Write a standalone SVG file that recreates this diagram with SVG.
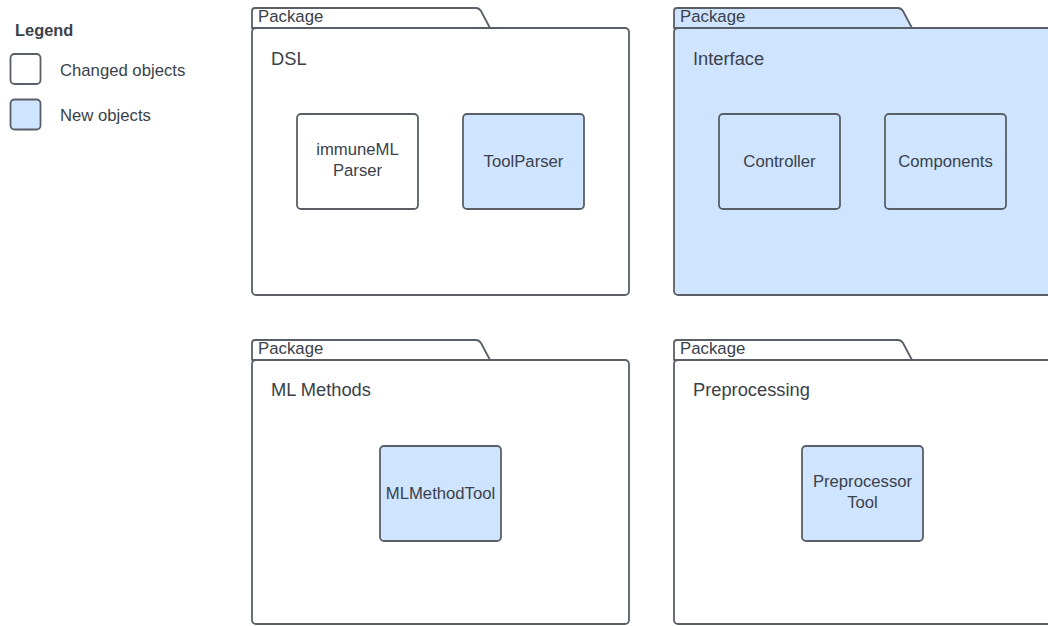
<svg xmlns="http://www.w3.org/2000/svg" width="1048" height="626" viewBox="0 0 1048 626">
<style>
.pk{stroke:#5a5f67;stroke-width:1.8;stroke-linejoin:round}
.w{fill:#ffffff}
.b{fill:#cfe4ff}
.nd{stroke:#5a5f67;stroke-width:1.8}
text{font-family:"Liberation Sans",Arial,sans-serif;fill:#3a414a}
.tab{font-size:16.8px}
.ttl{font-size:18.3px}
.lbl{font-size:16.7px;text-anchor:middle}
.lg{font-size:16.7px}
</style>
<rect width="1048" height="626" fill="#ffffff"/>
<g id="legend">
<text x="15" y="36" font-size="16.4px" font-weight="bold">Legend</text>
<rect x="10.5" y="54" width="30" height="30" rx="4" class="nd w"/>
<text x="60" y="76" class="lg">Changed objects</text>
<rect x="10.5" y="99.5" width="30" height="30" rx="4" class="nd b"/>
<text x="60" y="121" class="lg">New objects</text>
</g>
<g id="pkg-dsl">
<path d="M252,28 V11 Q252,8 255,8 H476 Q479,8 481,11 L490,28 Z" class="pk w"/>
<rect x="252" y="28" width="377" height="267" rx="4" class="pk w"/>
<text x="258" y="22" class="tab">Package</text>
<text x="271" y="65" class="ttl">DSL</text>
</g>
<g id="node-immuneml">
<rect x="297" y="114" width="121" height="95" rx="4" class="nd w"/>
<text x="357.5" y="155" class="lbl">immuneML</text>
<text x="357.5" y="176" class="lbl">Parser</text>
</g>
<g id="node-toolparser">
<rect x="463" y="114" width="121" height="95" rx="4" class="nd b"/>
<text x="523.5" y="167" class="lbl">ToolParser</text>
</g>
<g id="pkg-interface">
<path d="M674,28 V11 Q674,8 677,8 H898 Q901,8 903,11 L912,28 Z" class="pk b"/>
<rect x="674" y="28" width="390" height="267" rx="4" class="pk b"/>
<text x="680" y="22" class="tab">Package</text>
<text x="693" y="65" class="ttl">Interface</text>
</g>
<g id="node-controller">
<rect x="719" y="114" width="121" height="95" rx="4" class="nd b"/>
<text x="779.5" y="167" class="lbl">Controller</text>
</g>
<g id="node-components">
<rect x="885" y="114" width="121" height="95" rx="4" class="nd b"/>
<text x="945.5" y="167" class="lbl">Components</text>
</g>
<g id="pkg-ml">
<path d="M252,360 V343 Q252,340 255,340 H476 Q479,340 481,343 L490,360 Z" class="pk w"/>
<rect x="252" y="360" width="377" height="264" rx="4" class="pk w"/>
<text x="258" y="354" class="tab">Package</text>
<text x="271" y="396" class="ttl">ML Methods</text>
</g>
<g id="node-mlmethodtool">
<rect x="380" y="446" width="121" height="95" rx="4" class="nd b"/>
<text x="440.5" y="499" class="lbl">MLMethodTool</text>
</g>
<g id="pkg-preprocessing">
<path d="M674,360 V343 Q674,340 677,340 H898 Q901,340 903,343 L912,360 Z" class="pk w"/>
<rect x="674" y="360" width="390" height="264" rx="4" class="pk w"/>
<text x="680" y="354" class="tab">Package</text>
<text x="693" y="396" class="ttl">Preprocessing</text>
</g>
<g id="node-preprocessortool">
<rect x="802" y="446" width="121" height="95" rx="4" class="nd b"/>
<text x="862.5" y="487" class="lbl">Preprocessor</text>
<text x="862.5" y="508" class="lbl">Tool</text>
</g>
<g id="connectors"></g>
</svg>
